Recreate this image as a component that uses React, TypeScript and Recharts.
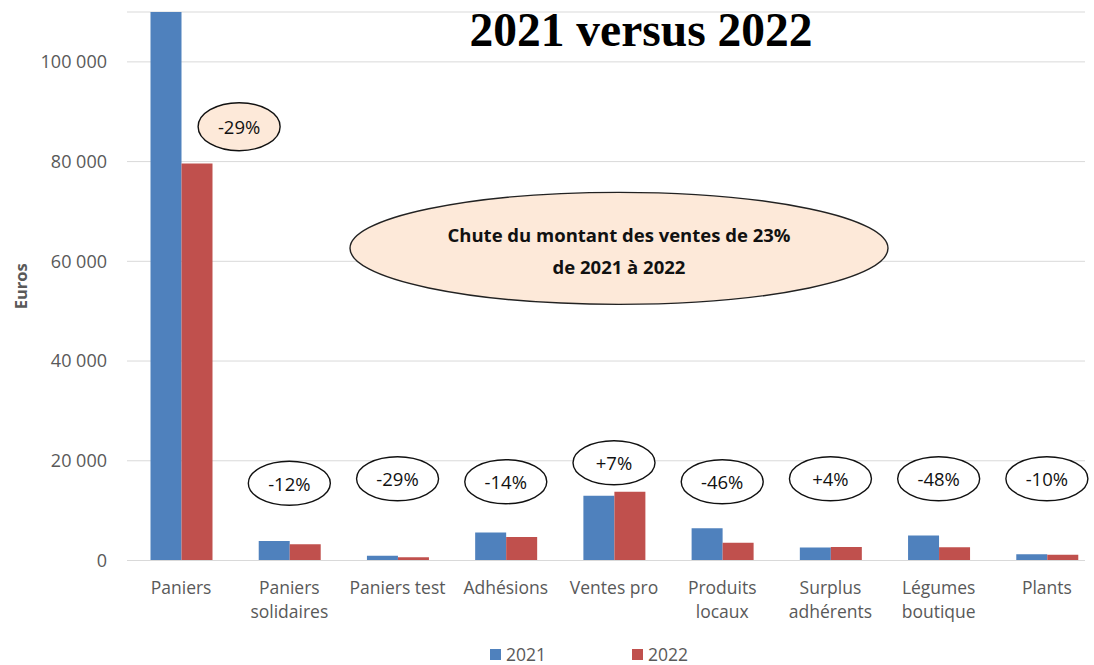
import React from "react";
import {
  BarChart,
  Bar,
  XAxis,
  YAxis,
  CartesianGrid,
  ReferenceDot,
  Label,
} from "recharts";

const categories = [
  "Paniers",
  "Paniers solidaires",
  "Paniers test",
  "Adhésions",
  "Ventes pro",
  "Produits locaux",
  "Surplus adhérents",
  "Légumes boutique",
  "Plants",
];
const values2021 = [112000, 3900, 950, 5600, 13000, 6450, 2600, 5000, 1250];
const values2022 = [79600, 3250, 650, 4700, 13800, 3550, 2700, 2650, 1150];
const changeLabels = ["-29%", "-12%", "-29%", "-14%", "+7%", "-46%", "+4%", "-48%", "-10%"];
// height (in euros) where each change bubble sits
const changeHeights = [87000, 15500, 16400, 15800, 19600, 15800, 16400, 16400, 16400];
const yTicks = [0, 20000, 40000, 60000, 80000, 100000];

const data = categories.map((name, i) => ({
  name,
  y2021: values2021[i],
  y2022: values2022[i],
}));

const BLUE = "#4F81BD";
const RED = "#C0504D";
const GREY = "#595959";
const FONT = "'Open Sans', sans-serif";

const fmt = (v: number) => String(v).replace(/\B(?=(\d{3})+(?!\d))/g, " ");

// greedy wrap on character count, like the Excel axis does
const wrap = (s: string, max = 12) => {
  const lines: string[] = [];
  s.split(" ").forEach((w) => {
    const last = lines[lines.length - 1];
    if (last && (last + " " + w).length <= max) lines[lines.length - 1] = last + " " + w;
    else lines.push(w);
  });
  return lines;
};

const CategoryTick = (props: any) => {
  const { x, y, payload } = props;
  return (
    <text
      x={x}
      y={y}
      textAnchor="middle"
      fontSize={17.5}
      fontFamily={FONT}
      fill={GREY}
    >
      {wrap(payload.value).map((l, i) => (
        <tspan key={i} x={x} dy={i === 0 ? 12.5 : 24}>
          {l}
        </tspan>
      ))}
    </text>
  );
};

const Bubble = (label: string, first: boolean) => (props: any) => {
  const { cx, cy } = props;
  const dx = first ? 58 : 0;
  return (
    <g>
      <ellipse
        cx={cx + dx}
        cy={cy}
        rx={41}
        ry={first ? 24 : 22}
        fill={first ? "#FDE9D9" : "#fff"}
        stroke="#111"
        strokeWidth={1.4}
      />
      <text
        x={cx + dx}
        y={cy}
        textAnchor="middle"
        dominantBaseline="central"
        fontSize={18.5}
        fontFamily={FONT}
        fill="#111"
      >
        {label}
      </text>
    </g>
  );
};

const BigBubble = (props: any) => {
  const { cx, cy } = props;
  const x = cx + 5;
  return (
    <g>
      <ellipse cx={x} cy={cy} rx={269} ry={56} fill="#FDE9D9" stroke="#222" strokeWidth={1.4} />
      <text
        textAnchor="middle"
        fontSize={18.5}
        fontWeight="bold"
        fontFamily={FONT}
        fill="#111"
      >
        <tspan x={x} y={cy - 6}>Chute du montant des ventes de 23%</tspan>
        <tspan x={x} y={cy + 26}>de 2021 à 2022</tspan>
      </text>
    </g>
  );
};

export default function App() {
  return (
    <div
      style={{
        position: "absolute",
        left: 0,
        top: 0,
        width: 1094,
        height: 665,
        background: "#fff",
        fontFamily: FONT,
        overflow: "hidden",
      }}
    >
      <BarChart
        width={1094}
        height={665}
        data={data}
        margin={{ top: 12, right: 9, bottom: 24.5, left: 0 }}
        barCategoryGap={23.5}
        barGap={0}
      >
        <CartesianGrid vertical={false} stroke="#D9D9D9" />
        <XAxis
          dataKey="name"
          height={80}
          padding={{ left: 0, right: -16 }}
          tickLine={false}
          tickSize={0}
          tickMargin={21}
          axisLine={{ stroke: "#D9D9D9" }}
          interval={0}
          tick={<CategoryTick />}
        />
        <YAxis
          width={127}
          domain={[0, 110000]}
          ticks={yTicks}
          allowDataOverflow
          axisLine={false}
          tickLine={false}
          tickSize={0}
          tickMargin={20}
          tickFormatter={fmt}
          tick={{ fontSize: 18, fontFamily: FONT, fill: GREY }}
        >
          <Label
            content={(p: any) => {
              const vb = p.viewBox;
              return (
                <text
                  transform={`translate(${vb.x + 20.5},${vb.y + vb.height / 2}) rotate(-90)`}
                  textAnchor="middle"
                  dominantBaseline="central"
                  fontSize={16.5}
                  fontWeight="bold"
                  fontFamily={FONT}
                  fill={GREY}
                >
                  Euros
                </text>
              );
            }}
          />
        </YAxis>
        <Bar dataKey="y2021" fill={BLUE} isAnimationActive={false} />
        <Bar dataKey="y2022" fill={RED} isAnimationActive={false} />
        {categories.map((c, i) => (
          <ReferenceDot
            key={c}
            x={c}
            y={changeHeights[i]}
            r={1}
            shape={Bubble(changeLabels[i], i === 0)}
          />
        ))}
        <ReferenceDot x="Ventes pro" y={62600} r={1} shape={BigBubble} />
      </BarChart>

      <div
        style={{
          position: "absolute",
          left: 436,
          top: 6,
          width: 410,
          textAlign: "center",
          fontFamily: "'Liberation Serif', 'Times New Roman', serif",
          fontWeight: "bold",
          fontSize: 47.5,
          lineHeight: "48px",
          color: "#000",
        }}
      >
        2021 versus 2022
      </div>

      <div
        style={{
          position: "absolute",
          left: 490,
          top: 644,
          display: "flex",
          alignItems: "center",
          gap: 86,
          fontSize: 17.5,
          color: GREY,
          lineHeight: "20px",
        }}
      >
        {[
          { label: "2021", color: BLUE },
          { label: "2022", color: RED },
        ].map((it) => (
          <div key={it.label} style={{ display: "flex", alignItems: "center", gap: 5 }}>
            <span style={{ width: 11, height: 11, background: it.color, display: "inline-block" }} />
            <span>{it.label}</span>
          </div>
        ))}
      </div>
    </div>
  );
}
